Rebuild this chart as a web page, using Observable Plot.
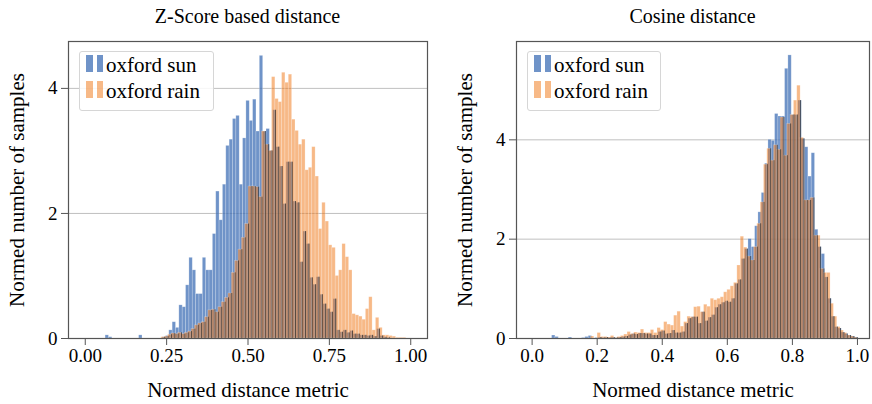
<!DOCTYPE html>
<html><head><meta charset="utf-8">
<script src="https://cdn.jsdelivr.net/npm/d3@7"></script>
<script src="https://cdn.jsdelivr.net/npm/@observablehq/plot@0.6"></script>
<style>
body{margin:0;background:#fff;}
#wrap{position:relative;width:872px;height:404px;font-family:"Liberation Serif",serif;color:#000;overflow:hidden;}
#wrap svg, #wrap svg text, #wrap svg g{font-family:"Liberation Serif",serif !important;font-variant:normal !important;}
.panel{position:absolute;top:0;}
.title{position:absolute;top:6px;width:400px;font-size:20px;line-height:20px;text-align:center;white-space:nowrap;}
.legend{position:absolute;top:51px;height:58px;border:1px solid #d6d6d6;border-radius:3px;background:rgba(255,255,255,0.85);}
.sw{position:absolute;width:6.5px;height:17px;}
.lt{position:absolute;font-size:21px;line-height:24px;white-space:nowrap;}
</style></head>
<body><div id="wrap"></div>
<script>
// ---- data ----
const titles = ["Z-Score based distance", "Cosine distance"];
const seriesNames = ["oxford sun", "oxford rain"];
const xLabel = "Normed distance metric";
const yLabel = "Normed number of samples";
const binWidthL = 0.0103, sunStartL = 0.0625, rainStartL = 0.0588;
const binWidthR = 0.01023, sunStartR = 0.0614, rainStartR = 0.058;
const xTicksL = [0, 0.25, 0.5, 0.75, 1.0];
const xTicksR = [0, 0.2, 0.4, 0.6, 0.8, 1.0];
const yTicks = [0, 2, 4];

const sunL = [0.05,0.02,0,0,0,0,0,0,0,0,
  0.05,0,0,0,0,0,0,0.02,0.04,0.13,
  0.26,0.17,0.53,0.50,0.85,1.29,1.09,0.71,0.71,1.29,
  1.09,1.09,1.67,2.35,1.89,2.46,3.08,3.18,3.51,3.56,
  2.46,3.20,3.80,3.48,3.82,3.31,4.52,3.31,3.35,3.00,
  3.65,3.06,2.75,2.15,2.82,2.82,2.19,2.17,1.22,1.71,
  1.51,0.97,0.86,0.98,0.70,0.55,0.47,0.42,0.63,0.13,
  0.10,0.13,0.09,0.12,0.07,0.07,0.05,0.05,0.04,0.05,
  0.03,0.15,0.04,0.02,0.01];
const rainL = [0,0,0,0,0,0,0,0,0,0,
  0,0,0,0,0,0,0,0.02,0.03,0.06,
  0.08,0.07,0.09,0.07,0.09,0.11,0.15,0.21,0.24,0.26,
  0.34,0.45,0.46,0.42,0.50,0.58,0.65,0.72,1.05,1.24,
  1.42,1.61,1.83,2.43,2.43,2.42,2.26,3.31,3.10,3.00,
  4.18,3.83,3.78,4.25,4.09,4.22,3.50,3.32,3.10,3.18,
  2.69,2.73,3.06,2.59,1.75,2.17,1.87,1.49,1.45,1.00,
  1.09,1.51,1.30,1.09,0.39,0.37,0.35,0.30,0.47,0.66,
  0.13,0.33,0.17,0.05,0.05,0.04,0.03,0.01,0.01,0.01];
const sunR = [0.06,0.03,0,0,0,0.02,0,0,0,0.01,
  0.03,0.05,0,0.01,0.02,0.01,0.02,0.01,0.02,0.01,
  0.02,0.03,0.04,0.07,0.09,0.08,0.10,0.10,0.09,0.09,
  0.06,0.06,0.13,0.15,0.09,0.10,0.16,0.11,0.11,0.13,
  0.30,0.40,0.43,0.43,0.30,0.53,0.35,0.42,0.47,0.62,
  0.68,0.72,0.75,0.73,0.80,1.10,1.18,1.60,1.80,2.00,
  1.84,2.26,2.54,2.93,3.52,4.00,3.98,4.52,4.47,4.47,
  5.43,5.70,4.50,4.50,4.79,4.02,3.85,3.26,3.73,2.19,
  1.84,1.70,1.23,0.80,0.44,0.23,0.20,0.12,0.09,0.06,
  0.04,0.02];
const rainR = [0,0,0,0,0,0,0,0,0,0,
  0,0,0.04,0,0.11,0.03,0.03,0.02,0.05,0.01,
  0.03,0.05,0.08,0.13,0.09,0.12,0.11,0.18,0.11,0.11,
  0.17,0.11,0.21,0.17,0.33,0.28,0.26,0.46,0.54,0.24,
  0.33,0.44,0.43,0.63,0.64,0.53,0.68,0.64,0.80,0.77,
  0.80,0.83,0.93,0.98,1.05,1.12,1.47,2.05,1.83,1.65,
  1.57,1.84,2.31,2.74,3.50,3.82,3.58,3.89,3.80,4.45,
  3.68,4.32,4.50,4.79,5.09,4.04,2.78,2.78,2.83,2.07,
  2.07,1.40,1.32,1.32,0.70,0.44,0.23,0.16,0.11,0.06,
  0.04,0.02];

const SUN = "#3f6fb5", RAIN = "#ef730f";
const SUN_OP = 0.75, RAIN_OP = 0.5;
const FONT = "Liberation Serif";

function bins(vals, start, w) {
  return vals.map((v, k) => ({x1: start + k * w, x2: start + (k + 1) * w, y: v}));
}

function panel(cfg) {
  const sun = bins(cfg.sun, cfg.sunStart, cfg.w);
  const rain = bins(cfg.rain, cfg.rainStart, cfg.w);
  const lines = rain.map((r, k) => ({x: r.x2, y: Math.min(r.y, cfg.sun[k] ?? 0)})).filter(d => d.y > 0);
  return Plot.plot({
    width: 436, height: 404,
    marginLeft: cfg.ml, marginRight: cfg.mr, marginTop: 41, marginBottom: 66,
    style: {fontFamily: FONT, fontSize: "19px", color: "#000", background: "transparent"},
    x: {domain: cfg.xDomain, label: null},
    y: {domain: cfg.yDomain, label: null},
    marks: [
      Plot.gridY(yTicks.filter(t => t > 0), {stroke: "#b0b0b0", strokeOpacity: 0.8, strokeWidth: 1}),
      Plot.rectY(sun, {x1: "x1", x2: "x2", y: "y", fill: SUN, fillOpacity: SUN_OP, stroke: "#fff", strokeOpacity: 0.3, strokeWidth: 0.7}),
      Plot.rectY(rain, {x1: "x1", x2: "x2", y: "y", fill: RAIN, fillOpacity: RAIN_OP, stroke: "#fff", strokeOpacity: 0.3, strokeWidth: 0.7}),
      Plot.ruleX(lines, {x: "x", y1: 0, y2: "y", stroke: "#1a1a1a", strokeWidth: 0.9, strokeOpacity: 0.7}),
      Plot.frame({stroke: "#555", strokeWidth: 1.2}),
      Plot.axisX({ticks: cfg.xTicks, tickFormat: cfg.fmt, tickSize: 7, tickPadding: 3, stroke: "#555", label: null, fontSize: 19, fontFamily: FONT, fontVariant: "normal"}),
      Plot.axisY({ticks: yTicks, tickFormat: d3.format("d"), tickSize: 7, tickPadding: 4, stroke: "#555", label: null, fontSize: 19, fontFamily: FONT, fontVariant: "normal"}),
      Plot.text([xLabel], {text: d => d, frameAnchor: "bottom", dy: 58, fontSize: 21, fontFamily: FONT, fill: "#000"}),
      Plot.text([yLabel], {text: d => d, frameAnchor: "left", textAnchor: "middle", dx: -51, rotate: -90, fontSize: 21, fontFamily: FONT, fill: "#000"})
    ]
  });
}

const wrap = document.getElementById("wrap");
const cfgs = [
  {left: 0, sun: sunL, rain: rainL, sunStart: sunStartL, rainStart: rainStartL, w: binWidthL,
   ml: 68, mr: 9, xDomain: [-0.0515, 1.0515], yDomain: [0, 4.75], xTicks: xTicksL, fmt: d3.format(".2f"),
   titleCenter: 247.5, legendLeft: 79, legendWidth: 133},
  {left: 436, sun: sunR, rain: rainR, sunStart: sunStartR, rainStart: rainStartR, w: binWidthR,
   ml: 80, mr: 3, xDomain: [-0.048, 1.037], yDomain: [0, 5.98], xTicks: xTicksR, fmt: d3.format(".1f"),
   titleCenter: 692.5, legendLeft: 527, legendWidth: 132}
];
cfgs.forEach((c, i) => {
  const p = panel(c);
  p.classList.add("panel");
  p.style.left = c.left + "px";
  wrap.appendChild(p);
  const t = document.createElement("div");
  t.className = "title";
  t.style.left = (c.titleCenter - 200) + "px";
  t.textContent = titles[i];
  wrap.appendChild(t);
  const lg = document.createElement("div");
  lg.className = "legend";
  lg.style.left = c.legendLeft + "px";
  lg.style.width = c.legendWidth + "px";
  [SUN, RAIN].forEach((col, j) => {
    const op = j === 0 ? SUN_OP : RAIN_OP;
    [0, 10.5].forEach(off => {
      const s = document.createElement("div");
      s.className = "sw";
      s.style.left = (6 + off) + "px";
      s.style.top = (3 + j * 25.5) + "px";
      s.style.background = col;
      s.style.opacity = op;
      lg.appendChild(s);
    });
    const tx = document.createElement("div");
    tx.className = "lt";
    tx.style.left = "26px";
    tx.style.top = (1 + j * 25.5) + "px";
    tx.textContent = seriesNames[j];
    lg.appendChild(tx);
  });
  wrap.appendChild(lg);
});
</script>
</body></html>
